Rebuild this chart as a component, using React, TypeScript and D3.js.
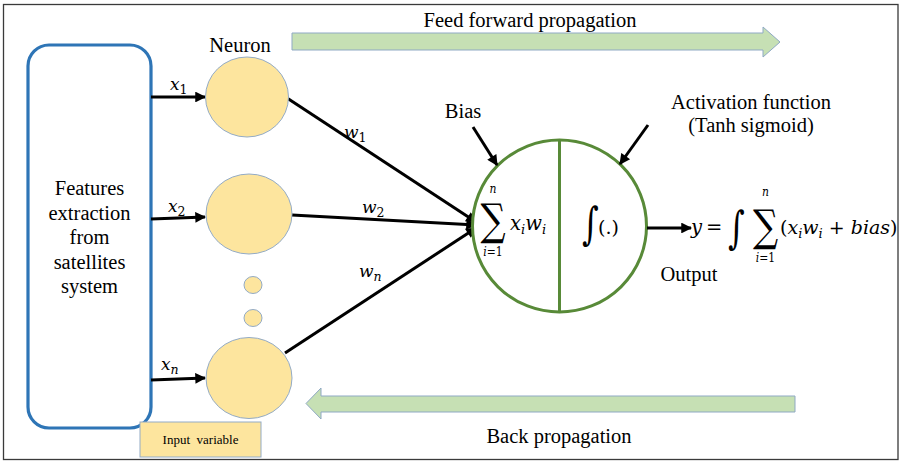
import React from "react";
import * as d3 from "d3";

const leftLabelLines = ["Features", "extraction", "from", "satellites", "system"];
const inputNeuronLabels = ["1", "2", "n"];
const weightLabelSubs = ["1", "2", "n"];
const sumUpper = "n";
const sumLowerVar = "i";
const sumLowerRest = "=1";
const titleTop = "Feed forward propagation";
const titleBottom = "Back propagation";
const neuronTitle = "Neuron";
const inputBoxLabel = "Input  variable";
const biasLabel = "Bias";
const activationLines = ["Activation function", "(Tanh sigmoid)"];
const outputLabel = "Output";

// layout (positions kept separate from the labels)
const neuronPos = [
  { cx: 247, cy: 97, rx: 41.5, ry: 40 },
  { cx: 249, cy: 214, rx: 43, ry: 40 },
  { cx: 249, cy: 378, rx: 43, ry: 40.5 },
];
const inputArrowY = [[97, 97], [219, 217], [380, 378]];
const inputLabelPos = [[170, 90], [168, 212], [161, 370]];
const weightStart = [[287, 98], [292, 215], [285, 353]];
const weightEndY = [222, 225, 228];
const weightLabelPos = [[344, 138], [362, 213], [359, 277]];
const dotPos = [[253, 285], [253, 318]];

const SERIF = '"Liberation Serif", "Times New Roman", serif';
const MATH = '"DejaVu Serif", serif';
const neuronFill = "#fde59e";
const neuronStroke = "#93abc6";
const arrowFill = "#c6e0b4";
const arrowStroke = "#8fa9c4";
const green = "#588a38";

const serifStyle = (size: number) => ({ fontFamily: SERIF, fontSize: size });
const mathStyle = (size: number, italic = true) => ({
  fontFamily: MATH,
  fontSize: size,
  fontStyle: italic ? "italic" : "normal",
});

function SumSymbol({ cx, topY, midY, botY }: { cx: number; topY: number; midY: number; botY: number }) {
  return (
    <text transform={`translate(${cx},0) scale(0.8,1)`} textAnchor="middle" style={mathStyle(13)}>
      <tspan x={0} y={topY} style={mathStyle(13.5)}>{sumUpper}</tspan>
      <tspan x={0} y={midY} style={mathStyle(44, false)}>∑</tspan>
      <tspan x={0} y={botY} style={mathStyle(13.5)}>
        {sumLowerVar}<tspan style={mathStyle(13.5, false)}>{sumLowerRest}</tspan>
      </tspan>
    </text>
  );
}

export default function App() {
  const line = d3.line<[number, number]>();
  const fwdArrow =
    line([[292, 33], [763, 33], [763, 27], [780, 42], [763, 57], [763, 50], [292, 50]]) + "Z";
  const backArrow =
    line([[795, 396], [321, 396], [321, 388], [306, 403.5], [321, 419], [321, 412], [795, 412]]) + "Z";

  return (
    <svg width={901} height={462} style={{ position: "absolute", left: 0, top: 0 }}>
      <defs>
        <marker id="ah" viewBox="0 0 10 10" refX="9" refY="5" markerWidth="4.2" markerHeight="3.6"
          orient="auto" markerUnits="strokeWidth">
          <path d="M0,0 L10,5 L0,10 Z" fill="#000" />
        </marker>
      </defs>
      <rect x={0} y={0} width={901} height={462} fill="#fff" />
      <rect x={3.5} y={4.5} width={894.5} height={455} fill="none" stroke="#3a3a3a" strokeWidth={1.3} />

      {/* Left box */}
      <rect x={28} y={45} width={123} height={383} rx={21} ry={21} fill="#fff" stroke="#2e75b6" strokeWidth={3.2} />
      {leftLabelLines.map((t, i) => (
        <text key={t} x={89.5} y={195 + i * 24.5} textAnchor="middle" style={serifStyle(20.5)}>{t}</text>
      ))}

      {/* Input variable box */}
      <rect x={140} y={422} width={121} height={35} fill={neuronFill} stroke={neuronStroke} strokeWidth={1} />
      <text x={200.5} y={444} textAnchor="middle" style={{ ...serifStyle(13), whiteSpace: "pre" }}>{inputBoxLabel}</text>

      {/* Neuron label */}
      <text x={240} y={52} textAnchor="middle" style={serifStyle(20.5)}>{neuronTitle}</text>

      {/* Input arrows and x labels */}
      {inputNeuronLabels.map((sub, i) => (
        <g key={i}>
          <line x1={151} y1={inputArrowY[i][0]} x2={205} y2={inputArrowY[i][1]} stroke="#000" strokeWidth={3}
            markerEnd="url(#ah)" />
          <text x={inputLabelPos[i][0]} y={inputLabelPos[i][1]} style={mathStyle(17)}>
            x<tspan dy={4} style={mathStyle(12.5, sub === "n")}>{sub}</tspan>
          </text>
        </g>
      ))}

      {/* weight lines */}
      {weightStart.map((s, i) => (
        <line key={i} x1={s[0]} y1={s[1]} x2={476} y2={weightEndY[i]} stroke="#000" strokeWidth={3}
          markerEnd="url(#ah)" />
      ))}

      {/* Neurons */}
      {neuronPos.map((n, i) => (
        <ellipse key={i} cx={n.cx} cy={n.cy} rx={n.rx} ry={n.ry} fill={neuronFill} stroke={neuronStroke} strokeWidth={1} />
      ))}
      {dotPos.map((p, i) => (
        <ellipse key={i} cx={p[0]} cy={p[1]} rx={9} ry={8.5} fill={neuronFill} stroke={neuronStroke} strokeWidth={1} />
      ))}

      {weightLabelSubs.map((sub, i) => (
        <text key={i} x={weightLabelPos[i][0]} y={weightLabelPos[i][1]} style={mathStyle(17)}>
          w<tspan dy={4} style={mathStyle(12.5, sub === "n")}>{sub}</tspan>
        </text>
      ))}

      {/* Big neuron */}
      <ellipse cx={559.5} cy={226} rx={87} ry={86} fill="#fff" stroke={green} strokeWidth={3} />
      <line x1={559.5} y1={140} x2={559.5} y2={312} stroke={green} strokeWidth={3} />

      {/* sum in circle */}
      <SumSymbol cx={493} topY={193} midY={235} botY={256} />
      <text x={510} y={230} style={mathStyle(19.5)}>
        x<tspan dy={4} style={mathStyle(13)}>i</tspan>
        <tspan dy={-4}>w</tspan>
        <tspan dy={4} style={mathStyle(13)}>i</tspan>
      </text>

      {/* integral in circle */}
      <text transform="translate(582,239) scale(1,1.4)" style={mathStyle(32, false)}>∫</text>
      <text x={598} y={234} style={mathStyle(19, false)}>(.)</text>

      {/* Output arrow and formula */}
      <line x1={647} y1={228} x2={691} y2={228} stroke="#000" strokeWidth={3} markerEnd="url(#ah)" />
      <text x={691} y={234} style={mathStyle(19.5)}>y</text>
      <text x={706} y={234} style={mathStyle(19.5, false)}>=</text>
      <text transform="translate(728,243) scale(1,1.4)" style={mathStyle(32, false)}>∫</text>
      <SumSymbol cx={765.5} topY={196} midY={241} botY={262} />
      <text x={780} y={234} style={mathStyle(19, false)}>
        (<tspan style={mathStyle(19)}>x</tspan>
        <tspan dy={4} style={mathStyle(13)}>i</tspan>
        <tspan dy={-4} style={mathStyle(19)}>w</tspan>
        <tspan dy={4} style={mathStyle(13)}>i</tspan>
        <tspan dy={-4}> + </tspan>
        <tspan style={mathStyle(19)}>bias</tspan>)
      </text>
      <text x={689} y={281} textAnchor="middle" style={serifStyle(20.5)}>{outputLabel}</text>

      {/* Bias */}
      <text x={463} y={118} textAnchor="middle" style={serifStyle(20.5)}>{biasLabel}</text>
      <line x1={473} y1={127} x2={497} y2={165} stroke="#000" strokeWidth={3} markerEnd="url(#ah)" />

      {/* Activation */}
      {activationLines.map((t, i) => (
        <text key={t} x={751} y={109 + i * 23} textAnchor="middle" style={serifStyle(20.5)}>{t}</text>
      ))}
      <line x1={648} y1={125} x2={620} y2={164} stroke="#000" strokeWidth={3} markerEnd="url(#ah)" />

      {/* Propagation arrows */}
      <path d={fwdArrow} fill={arrowFill} stroke={arrowStroke} strokeWidth={1} />
      <text x={530} y={27} textAnchor="middle" style={serifStyle(20.5)}>{titleTop}</text>
      <path d={backArrow} fill={arrowFill} stroke={arrowStroke} strokeWidth={1} />
      <text x={559} y={443} textAnchor="middle" style={serifStyle(20.5)}>{titleBottom}</text>
    </svg>
  );
}
